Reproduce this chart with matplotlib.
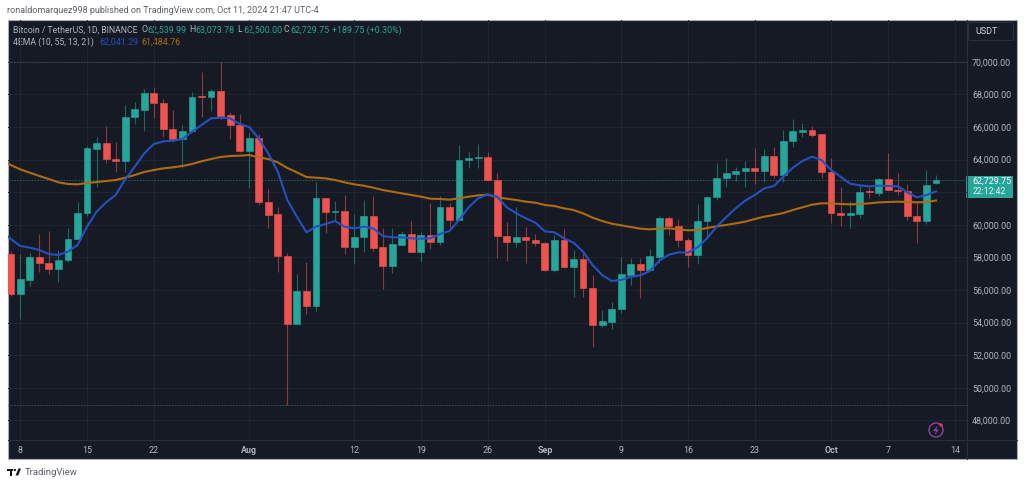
#!/usr/bin/env python3

import matplotlib
matplotlib.use("Agg")
import matplotlib.pyplot as plt
from matplotlib.patches import Rectangle, Circle, Polygon, FancyBboxPatch

plt.rcParams["font.family"] = ["Roboto", "DejaVu Sans"]

# Daily candles, first one is Jul 7 2024..
open_p = [58182, 55769, 56627, 57998, 57650, 57261, 57814, 59122, 60717, 64664,
          64992, 64031, 63887, 66587, 67037, 68100, 67486, 65891, 65278, 65748,
          67895, 67813, 68202, 66709, 66116, 64541, 65299, 61413, 60636, 58100,
          53928, 55953, 55033, 61618, 60759, 60861, 58632, 59266, 60513, 58612,
          57466, 58775, 59409, 58325, 59368, 58918, 61066, 60288, 63970, 64072,
          64154, 62763, 59327, 58959, 59266, 59082, 58898, 57221, 59061, 57385,
          57896, 56137, 53847, 54051, 54808, 56935, 57589, 57241, 58039, 60432,
          59941, 59082, 58121, 60227, 61679, 62845, 63131, 63274, 63499, 63274,
          64194, 63070, 65115, 65708, 65790, 65544, 63254, 60738, 60575, 60677,
          62047, 61965, 62783, 62150, 62068, 60554, 60248, 62539.99]
close_p = [55769, 56668, 58018, 57630, 57261, 57834, 59143, 60738, 64684, 64992,
           64010, 63887, 66627, 67077, 68100, 67466, 65871, 65278, 65748, 67855,
           67855, 68223, 66689, 66116, 64541, 65298, 61413, 60616, 58100, 53928,
           55953, 55033, 61618, 60759, 60861, 58632, 59266, 60513, 58591, 57466,
           58796, 59409, 58325, 59368, 58918, 61066, 60288, 63970, 64072, 64154,
           62743, 59327, 58959, 59266, 59061, 58898, 57221, 59061, 57385, 57896,
           56117, 53847, 54092, 54808, 56955, 57589, 57241, 58059, 60432, 59920,
           59041, 58121, 60248, 61700, 62865, 63152, 63295, 63499, 63274, 64194,
           63070, 65135, 65728, 65790, 65503, 63254, 60718, 60575, 60698, 62006,
           61986, 62783, 62129, 62068, 60554, 60248, 62456, 62729.75]
high_p = [58386, 58182, 58243, 59429, 59613, 58447, 59797, 61372, 64848, 65360,
          66055, 65053, 67343, 67548, 68304, 68427, 67691, 67037, 66116, 68120,
          69347, 68304, 70000, 66934, 66791, 65605, 65565, 62170, 61066, 58244,
          56976, 57691, 62640, 61618, 61454, 61822, 60657, 61515, 61761, 59798,
          59777, 59613, 60227, 59532, 61311, 61761, 61311, 64890, 64440, 64951,
          64460, 63152, 60166, 61107, 59838, 59409, 58960, 59368, 59716, 58448,
          58305, 56914, 54767, 55278, 58039, 57937, 57937, 58509, 60554, 60554,
          60329, 59170, 61270, 61761, 63765, 64072, 63520, 63929, 64685, 64624,
          64747, 65810, 66464, 66219, 66055, 65544, 64072, 62333, 61454, 62436,
          62333, 62886, 64419, 63152, 62497, 61311, 63356, 63073.78]
low_p = [55625, 54214, 56259, 57118, 56995, 56505, 57691, 59100, 60554, 62333,
         63805, 63213, 63253, 66178, 65748, 66525, 65400, 65094, 63458, 65700,
         66587, 67000, 66423, 65257, 64480, 62272, 61209, 59818, 57078, 48920,
         53928, 54522, 54706, 59511, 60248, 58223, 57609, 58346, 58407, 56035,
         57057, 58734, 58325, 57732, 58509, 58734, 59716, 60288, 63499, 63499,
         62743, 57978, 57794, 58652, 57630, 58693, 57160, 57078, 57344, 55565,
         55585, 52517, 53704, 53581, 54562, 56301, 55483, 57221, 57630, 59368,
         58652, 57425, 57569, 59123, 61516, 62293, 62702, 62293, 62497, 62640,
         62886, 62640, 64788, 65401, 65401, 62845, 60125, 59941, 59777, 60432,
         61659, 61761, 62129, 61822, 60268, 58898, 60064, 62500.00]

# EMA values, one per day, the first is one day before the first candle
ema_blue = [59634, 59122, 58693, 58591, 58447, 58202, 58141, 58345, 58754, 59879,
            60799, 61372, 61822, 62783, 63560, 64378, 64951, 65114, 65155, 65257,
            65707, 66116, 66525, 66566, 66525, 66178, 65994, 65298, 64378, 63253,
            61515, 60493, 59531, 59879, 60043, 60227, 59880, 59777, 59880, 59777,
            59307, 59225, 59225, 59164, 59143, 59164, 59430, 59614, 60288, 61066,
            61618, 61863, 61720, 61066, 60698, 60391, 60125, 59593, 59532, 59164,
            58898, 58346, 57528, 56914, 56546, 56607, 56812, 56894, 57160, 57794,
            58162, 58305, 58284, 58612, 59164, 59880, 60452, 61004, 61475, 61822,
            62231, 62374, 62947, 63499, 63908, 64174, 63970, 63356, 62947, 62518,
            62416, 62354, 62395, 62374, 62354, 61986, 61679, 61822, 62041.29]
ema_orange = [64010, 63662, 63396, 63192, 62987, 62803, 62599, 62497, 62476, 62558,
              62619, 62681, 62742, 62885, 63049, 63233, 63355, 63458, 63519, 63601,
              63724, 63887, 64030, 64153, 64214, 64235, 64276, 64133, 64030, 63826,
              63478, 63213, 62926, 62885, 62844, 62742, 62599, 62477, 62395, 62272,
              62129, 62027, 61924, 61822, 61720, 61597, 61577, 61536, 61618, 61720,
              61802, 61843, 61679, 61597, 61516, 61413, 61352, 61209, 61147, 61004,
              60902, 60697, 60432, 60227, 60064, 59961, 59859, 59757, 59716, 59757,
              59777, 59716, 59655, 59675, 59798, 59900, 59982, 60084, 60186, 60350,
              60493, 60595, 60718, 60902, 61066, 61229, 61311, 61311, 61270, 61250,
              61270, 61311, 61372, 61393, 61413, 61393, 61372, 61393, 61484.76]

# days counted from Jul 8
tick_days = [0, 7, 14, 24, 35, 42, 49, 55, 63, 70, 77, 85, 91, 98]
tick_names = ["8", "15", "22", "Aug", "12", "19", "26", "Sep", "9", "16", "23", "Oct", "7", "14"]
price_ticks = [48000, 50000, 52000, 54000, 56000, 58000, 60000, 62000,
               64000, 66000, 68000, 70000]
# 62,000 sits behind the last price tag in the original
hidden_price = 62000

BG = "#161a25"
GRID = "#212530"
LINE = "#2b2f3b"
TXT = "#b2b5be"
UP = "#26a69a"
DOWN = "#ef5350"
BLUE = "#2550c0"
ORANGE = "#ad6c0e"

W, H = 1024, 484
fig = plt.figure(figsize=(W / 100, H / 100), dpi=100, facecolor="white")

# page furniture, drawn in pixel coordinates
page = fig.add_axes([0, 0, 1, 1], zorder=0)
page.set_xlim(0, W)
page.set_ylim(H, 0)
page.axis("off")
page.add_patch(Rectangle((7.5, 19.5), 1009, 439.5, fc=BG, ec="#a9acb3", lw=0.8))


def label(x, y, s, color=TXT, size=6.4, **kw):
    page.text(x, y, s, color=color, fontsize=size, va="center", **kw)


label(7, 10.5, "ronaldomarquez998 published on TradingView.com, Oct 11, 2024 21:47 UTC-4",
      color="#5d606b", size=6.45)
label(13, 30, "Bitcoin / TetherUS, 1D, BINANCE", size=6.2)
for x, name, val in [(141, "O", open_p[-1]), (189, "H", high_p[-1]),
                     (237, "L", low_p[-1]), (284, "C", close_p[-1])]:
    label(x, 30, name, size=6.3)
    label(x + 6, 30, f"{val:,.2f}", color=UP, size=6.4)
label(332, 30, "+189.75 (+0.30%)", color=UP, size=6.4)
label(13, 42, "4EMA (10, 55, 13, 21)", size=6.2)
label(99, 42, f"{ema_blue[-1]:,.2f}", color=BLUE, size=6.4)
label(141, 42, f"{ema_orange[-1]:,.2f}", color=ORANGE, size=6.4)

page.plot([966.5, 966.5], [19.5, 459], color=LINE, lw=0.8)
page.plot([7.5, 1016.5], [439.5, 439.5], color=LINE, lw=0.8)
page.add_patch(FancyBboxPatch((970, 24), 42, 15, boxstyle="round,pad=1.5,rounding_size=2",
                              fc=BG, ec=LINE, lw=0.8))
label(975, 31, "USDT", color="#d1d4dc", size=6.5)

# last price tag
page.add_patch(Rectangle((966, 175.5), 47, 22, fc=UP, ec="none"))
label(972.5, 180.8, f"{close_p[-1]:,.2f}", color="white", size=6.4)
label(972.5, 191.2, "22:12:42", color="#e8f5f3", size=6.2)

# TradingView footer
page.add_patch(Rectangle((7, 468.5), 6, 2.2, fc="#131722", ec="none"))
page.add_patch(Rectangle((9.5, 468.5), 2.2, 7, fc="#131722", ec="none"))
page.add_patch(Circle((14.8, 470), 1.2, fc="#131722", ec="none"))
page.add_patch(Polygon([(15.5, 475.5), (18.5, 468.5), (21, 468.5), (18.2, 475.5)],
                       fc="#131722", ec="none"))
label(24.5, 472.5, "TradingView", color="#5d606b", size=6.8)

# bolt icon
page.add_patch(Circle((936, 430), 7, fc="none", ec="#8e3fa8", lw=1.0))
page.add_patch(Polygon([(937.5, 425.5), (933, 431), (935.8, 431), (934.5, 435),
                        (939, 429.5), (936.4, 429.5)], fc="#8e3fa8", ec="none"))
page.add_patch(Circle((941, 425), 1.7, fc="#f23645", ec="none"))

# chart area
ax = fig.add_axes([7.5 / W, 1 - 439.5 / H, 959 / W, 420 / H], zorder=1)
ax.patch.set_alpha(0)
for s in ax.spines.values():
    s.set_visible(False)
ax.set_xlim(-1.34, 99.2)
ax.set_ylim(46822, 72590)

days = list(range(-1, len(close_p) - 1))
colors = [UP if c >= o else DOWN for o, c in zip(open_p, close_p)]
ax.vlines(days, low_p, high_p, colors=colors, lw=0.8, alpha=0.55, zorder=3)
ax.bar(days, [abs(c - o) for o, c in zip(open_p, close_p)],
       bottom=[min(o, c) for o, c in zip(open_p, close_p)],
       width=0.72, color=colors, edgecolor=colors, lw=0.4, zorder=4)

ema_days = list(range(-2, len(ema_blue) - 2))
ax.plot(ema_days, ema_orange, color=ORANGE, lw=1.5, zorder=5)
ax.plot(ema_days, ema_blue, color=BLUE, lw=1.5, zorder=6)

# range and last price markers
ax.axhline(max(high_p), color="#4a4d58", lw=0.7, ls=(0, (1.5, 1.5)), zorder=2)
ax.axhline(min(low_p), color="#4a4d58", lw=0.7, ls=(0, (1.5, 1.5)), zorder=2)
ax.axhline(close_p[-1], color="#256560", lw=0.7, ls=(0, (1.5, 1.5)), zorder=2)

ax.set_xticks(tick_days)
ax.set_xticklabels(tick_names)
ax.set_yticks(price_ticks)
ax.set_yticklabels(["" if p == hidden_price else f"{p:,.2f}" for p in price_ticks])
ax.yaxis.tick_right()
ax.tick_params(axis="x", length=0, pad=5, labelsize=6.4, labelcolor=TXT)
ax.tick_params(axis="y", length=0, pad=4, labelsize=6.4, labelcolor=TXT)
for t, name in zip(ax.get_xticklabels(), tick_names):
    if not name.isdigit():
        t.set_fontweight("bold")
ax.grid(True, color=GRID, lw=0.7, zorder=0)
ax.set_axisbelow(True)

fig.savefig("out.png", dpi=100, facecolor="white")
